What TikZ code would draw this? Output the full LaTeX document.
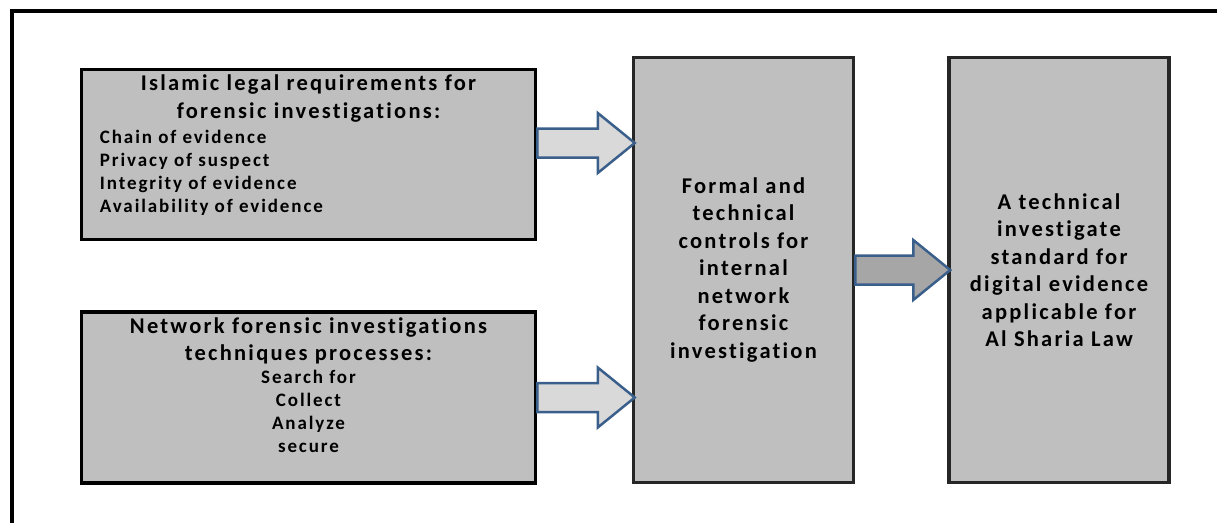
\documentclass[tikz,border=0pt]{standalone}
\usepackage{fontspec}
\newfontfamily\diagfont{Carlito}[LetterSpace=10, Ligatures=NoCommon]
\usetikzlibrary{positioning,calc}

\definecolor{boxgrey}{HTML}{BFBFBF}
\definecolor{edgegrey}{HTML}{262626}
\definecolor{arrowblue}{HTML}{3A5F8B}
\definecolor{lightfill}{HTML}{D9D9D9}
\definecolor{darkfill}{HTML}{A6A6A6}

\tikzset{
  greybox/.style={draw=black, line width=3.5pt, fill=boxgrey, inner sep=0pt},
  titletext/.style={font=\diagfont\bfseries\fontsize{22.5}{27.5}\selectfont, align=center, inner sep=0pt},
  listtext/.style={font=\diagfont\bfseries\fontsize{19}{23}\selectfont, inner sep=0pt},
  fatarrow/.style={draw=arrowblue, line width=2.5pt, line join=miter,
    to path={let \p1=(\tikztostart), \p2=(\tikztotarget) in
      (\x1,\y1+14.5pt) -- (\x2-34pt,\y1+14.5pt) -- (\x2-34pt,\y1+30pt) -- (\x2+3pt,\y1)
      -- (\x2-34pt,\y1-30pt) -- (\x2-34pt,\y1-14.5pt) -- (\x1,\y1-14.5pt) -- cycle}}
}

\begin{document}
\begin{tikzpicture}[x=1pt,y=-1pt,node distance=69pt]
  \useasboundingbox (0,0) rectangle (1217,523);
  \draw[line width=4pt] (12,523) -- (12,11) -- (1217,11);

  \node[greybox, minimum width=454pt, minimum height=170pt] (islamic) at (308.5,154.5) {};
  \node[greybox, minimum width=454pt, minimum height=171pt, below=of islamic] (network) {};
  \node[greybox, draw=edgegrey, minimum width=220pt, minimum height=425pt, titletext] (controls) at (743.5,270)
    {Formal and\\technical\\controls for\\internal\\network\\forensic\\investigation};
  \node[greybox, draw=edgegrey, minimum width=220pt, minimum height=425pt, titletext, right=92pt of controls] (standard)
    {A technical\\investigate\\standard for\\digital evidence\\applicable for\\Al Sharia Law};

  \node[titletext, anchor=north] (islamic title) at ([yshift=-7pt]islamic.north)
    {Islamic legal requirements for\\forensic investigations:};
  \node[listtext, anchor=north west, align=left] (islamic list) at ($(islamic.north west)+(20,62)$)
    {Chain of evidence\\Privacy of suspect\\Integrity of evidence\\Availability of evidence};

  \node[titletext, anchor=north] (network title) at ([yshift=-7pt]network.north)
    {Network forensic investigations\\techniques processes:};
  \node[listtext, align=center, below=5pt of network title] (network list)
    {Search for\\Collect\\Analyze\\secure};

  \coordinate (in1) at ([yshift=11.5pt]islamic.east);
  \draw[fatarrow, fill=lightfill] (in1) to (in1 -| controls.west);
  \draw[fatarrow, fill=lightfill] (network.east) to (network.east -| controls.west);
  \draw[fatarrow, fill=darkfill] (controls.east) to (standard.west);
\end{tikzpicture}
\end{document}
